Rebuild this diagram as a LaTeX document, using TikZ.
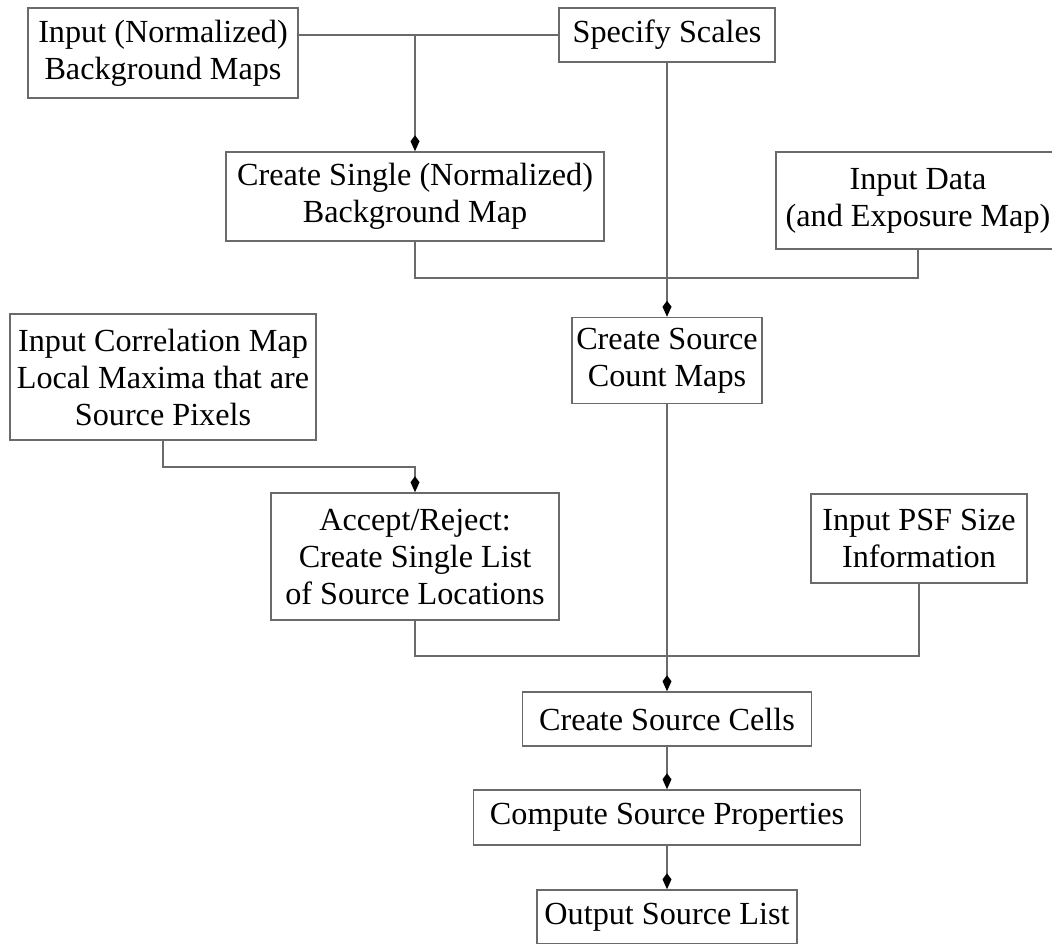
\documentclass[tikz,border=0pt]{standalone}
\usepackage{fontspec}
\setmainfont{Liberation Serif}
\usetikzlibrary{arrows.meta}
\definecolor{linegray}{HTML}{6A6A6A}
\tikzset{
  box/.style={draw=linegray, line width=1.5pt, rectangle, align=center, inner sep=0pt,
              font=\fontsize{32.2}{37}\selectfont, text=black},
  conn/.style={draw=linegray, line width=1.5pt},
  arr/.style={conn, -{Kite[length=16pt,width=9pt,inset=6pt,fill=black,color=black]}}
}
\begin{document}
\begin{tikzpicture}[x=1pt,y=-1pt]
\useasboundingbox (0,0) rectangle (1052,943);
\clip (0,0) rectangle (1052,943);
\node[box, minimum width=270pt, minimum height=90pt] (bgin) at (163,53) {Input (Normalized)\\Background Maps};
\node[box, minimum width=216pt, minimum height=54pt] (spec) at (667,35) {Specify Scales};
\node[box, minimum width=378pt, minimum height=89pt] (single) at (415,196.5) {Create Single (Normalized)\\Background Map};
\node[box, minimum width=284pt, minimum height=97pt] (data) at (918,200.5) {Input Data\\(and Exposure Map)};
\node[box, minimum width=190pt, minimum height=86pt] (count) at (667,360.5) {Create Source\\Count Maps};
\node[box, minimum width=306pt, minimum height=126pt] (corr) at (163,377) {Input Correlation Map\\Local Maxima that are\\Source Pixels};
\node[box, minimum width=288pt, minimum height=127pt] (accept) at (415,556.5) {Accept/Reject:\\Create Single List\\of Source Locations};
\node[box, minimum width=216pt, minimum height=89pt] (psf) at (919,538.5) {Input PSF Size\\Information};
\node[box, minimum width=289pt, minimum height=54pt] (cells) at (667,719) {Create Source Cells};
\node[box, minimum width=387pt, minimum height=55pt] (comp) at (667,817.5) {Compute Source Properties};
\node[box, minimum width=260pt, minimum height=54pt] (out) at (667,917) {Output Source List};

\coordinate (j1) at (415,35);
\coordinate (j2) at (415,278);
\coordinate (j3) at (918,278);
\coordinate (j4) at (163,467);
\coordinate (j5) at (415,467);
\coordinate (j6) at (415,656);
\coordinate (j7) at (919,656);

\draw[conn] (bgin.east |- spec.west) -- (spec.west);
\draw[arr] (j1) -- (single.north);
\draw[arr] (spec.south) -- (count.north);
\draw[conn] (single.south) -- (j2) -- (j3) -- (data.south);
\draw[arr] (corr.south) -- (j4) -- (j5) -- (accept.north);
\draw[conn] (accept.south) -- (j6) -- (j7) -- (psf.south);
\draw[arr] (count.south) -- (cells.north);
\draw[arr] (cells.south) -- (comp.north);
\draw[arr] (comp.south) -- (out.north);
\end{tikzpicture}
\end{document}
